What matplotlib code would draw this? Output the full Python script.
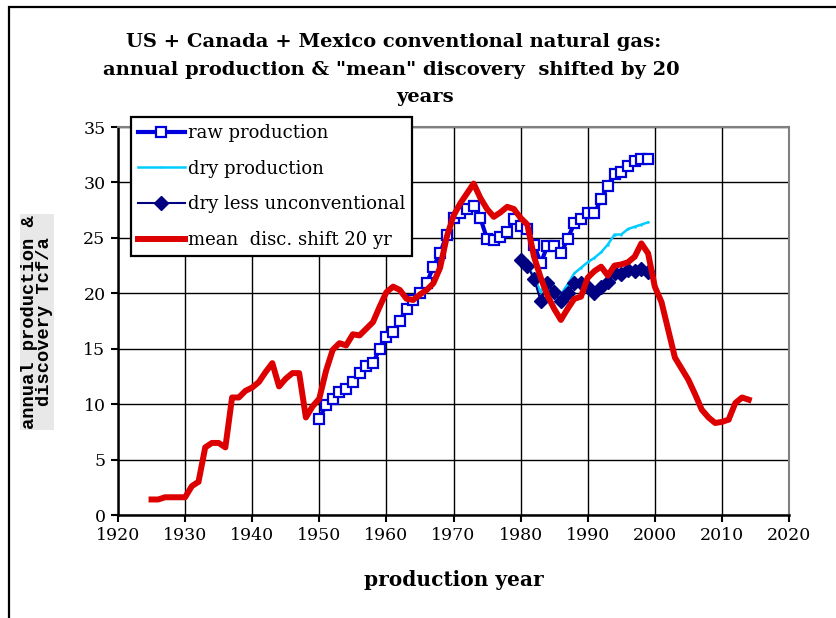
import matplotlib
matplotlib.use("Agg")
import matplotlib.pyplot as plt
from matplotlib.patches import Rectangle

# ---------------------------------------------------------------- data
raw_years = list(range(1950, 2000))
raw_prod = [8.7, 9.9, 10.5, 11.1, 11.4, 12.0, 12.8, 13.4, 13.7, 15.0,
            16.1, 16.5, 17.5, 18.6, 19.4, 20.0, 20.9, 22.4, 23.6, 25.3,
            26.8, 27.2, 27.6, 27.9, 26.8, 24.9, 24.8, 25.1, 25.5, 26.7,
            26.1, 25.8, 24.4, 22.7, 24.3, 24.3, 23.6, 24.9, 26.3, 26.7,
            27.2, 27.2, 28.5, 29.7, 30.8, 30.9, 31.5, 31.9, 32.1, 32.1]

dry_years = list(range(1980, 2000))
dry_prod = [23.0, 22.5, 21.5, 20.1, 21.3, 20.6, 19.9, 20.8, 21.8, 22.3,
            22.8, 23.2, 23.7, 24.4, 25.3, 25.3, 25.8, 26.0, 26.2, 26.4]

dry_less_unconv = [23.0, 22.5, 21.3, 19.3, 20.9, 20.1, 19.3, 20.0, 20.9, 20.9,
                   20.6, 20.0, 20.6, 21.0, 21.8, 21.7, 22.1, 22.0, 22.2, 21.9]

disc_years = list(range(1925, 2015))
mean_disc = [1.4, 1.4, 1.6, 1.6, 1.6, 1.6, 2.6, 3.0, 6.1, 6.5,
             6.5, 6.1, 10.6, 10.6, 11.2, 11.5, 12.0, 12.9, 13.7, 11.6,
             12.3, 12.8, 12.8, 8.8, 9.8, 10.5, 13.0, 14.9, 15.5, 15.3,
             16.3, 16.2, 16.8, 17.4, 18.8, 20.1, 20.6, 20.3, 19.5, 19.4,
             19.9, 20.3, 20.9, 22.3, 25.1, 27.0, 28.1, 29.0, 29.9, 28.6,
             27.6, 26.9, 27.3, 27.8, 27.6, 26.8, 26.2, 23.3, 21.4, 19.8,
             18.6, 17.6, 18.6, 19.5, 19.7, 21.4, 22.0, 22.4, 21.6, 22.5,
             22.6, 22.8, 23.3, 24.5, 23.6, 20.6, 19.2, 16.7, 14.2, 13.2,
             12.2, 10.9, 9.5, 8.8, 8.3, 8.4, 8.6, 10.1, 10.6, 10.4]

x_ticks = list(range(1920, 2021, 10))
y_ticks = list(range(0, 36, 5))

title_lines = ["US + Canada + Mexico conventional natural gas:",
               'annual production & "mean" discovery  shifted by 20',
               "years"]

# ---------------------------------------------------------------- figure
W, H = 836, 618
fig = plt.figure(figsize=(W / 100, H / 100), dpi=100)
ax = fig.add_axes([118 / W, 1 - 515 / H, (789 - 118) / W, (515 - 127) / H])

serif = "DejaVu Serif"

ax.plot(raw_years, raw_prod, color="#0000dd", lw=3, marker="s", ms=7,
        mfc="white", mec="#0000dd", mew=1.6, label="raw production", zorder=3)
ax.plot(dry_years, dry_prod, color="#00ccff", lw=1.8, marker="+", ms=2,
        label="dry production", zorder=3)
ax.plot(dry_years, dry_less_unconv, color="#000080", lw=1.5, marker="D", ms=7,
        mfc="#000080", mec="#000080", label="dry less unconventional", zorder=3)
ax.plot(disc_years, mean_disc, color="#dd0000", lw=4.3, marker="o", ms=1.5,
        label="mean  disc. shift 20 yr", zorder=4)

ax.set_xlim(1920, 2020)
ax.set_ylim(0, 35)
ax.set_xticks(x_ticks)
ax.set_yticks(y_ticks)
ax.grid(True, color="black", lw=1.0)
ax.set_axisbelow(True)

for s in ("left", "bottom"):
    ax.spines[s].set_linewidth(1.8)
    ax.spines[s].set_color("black")
for s in ("top", "right"):
    ax.spines[s].set_linewidth(1.5)
    ax.spines[s].set_color("#808080")

ax.tick_params(direction="out", length=5, width=1.5, labelsize=12.5, pad=4)
for lab in ax.get_xticklabels() + ax.get_yticklabels():
    lab.set_family(serif)

ax.set_xlabel("production year", family=serif, fontweight="bold",
              fontsize=14.5, labelpad=18)

fig.text(37 / W, 1 - 322 / H, "annual production &\ndiscovery Tcf/a",
         rotation=90, ha="center", va="center", family="Liberation Mono",
         fontweight="bold", fontsize=13.5, linespacing=0.85,
         bbox=dict(facecolor="#e8e8e8", edgecolor="none", pad=1))

# title, one line at a time (the original wraps unevenly)
fig.text(394 / W, 1 - 42 / H, title_lines[0], ha="center", va="center",
         family=serif, fontweight="bold", fontsize=14)
fig.text(391 / W, 1 - 70 / H, title_lines[1], ha="center", va="center",
         family=serif, fontweight="bold", fontsize=14)
fig.text(425 / W, 1 - 97 / H, title_lines[2], ha="center", va="center",
         family=serif, fontweight="bold", fontsize=14)

leg = ax.legend(loc="upper left", bbox_to_anchor=(131 / W, 1 - 117 / H),
                bbox_transform=fig.transFigure, borderaxespad=0,
                prop=dict(family=serif, size=13), numpoints=1,
                handlelength=2.6, handletextpad=0.15, labelspacing=0.98,
                borderpad=0.38, fancybox=False, framealpha=1)
leg.get_frame().set_edgecolor("black")
leg.get_frame().set_linewidth(1.6)
leg.set_zorder(10)

# outer chart frame (only top and left edges visible in the original)
fig.patches.append(Rectangle((9 / W, -0.1), 1.2, 1.1 - 7 / H, fill=False,
                             lw=1.6, edgecolor="black",
                             transform=fig.transFigure, figure=fig))

fig.savefig("out.png", dpi=100)
